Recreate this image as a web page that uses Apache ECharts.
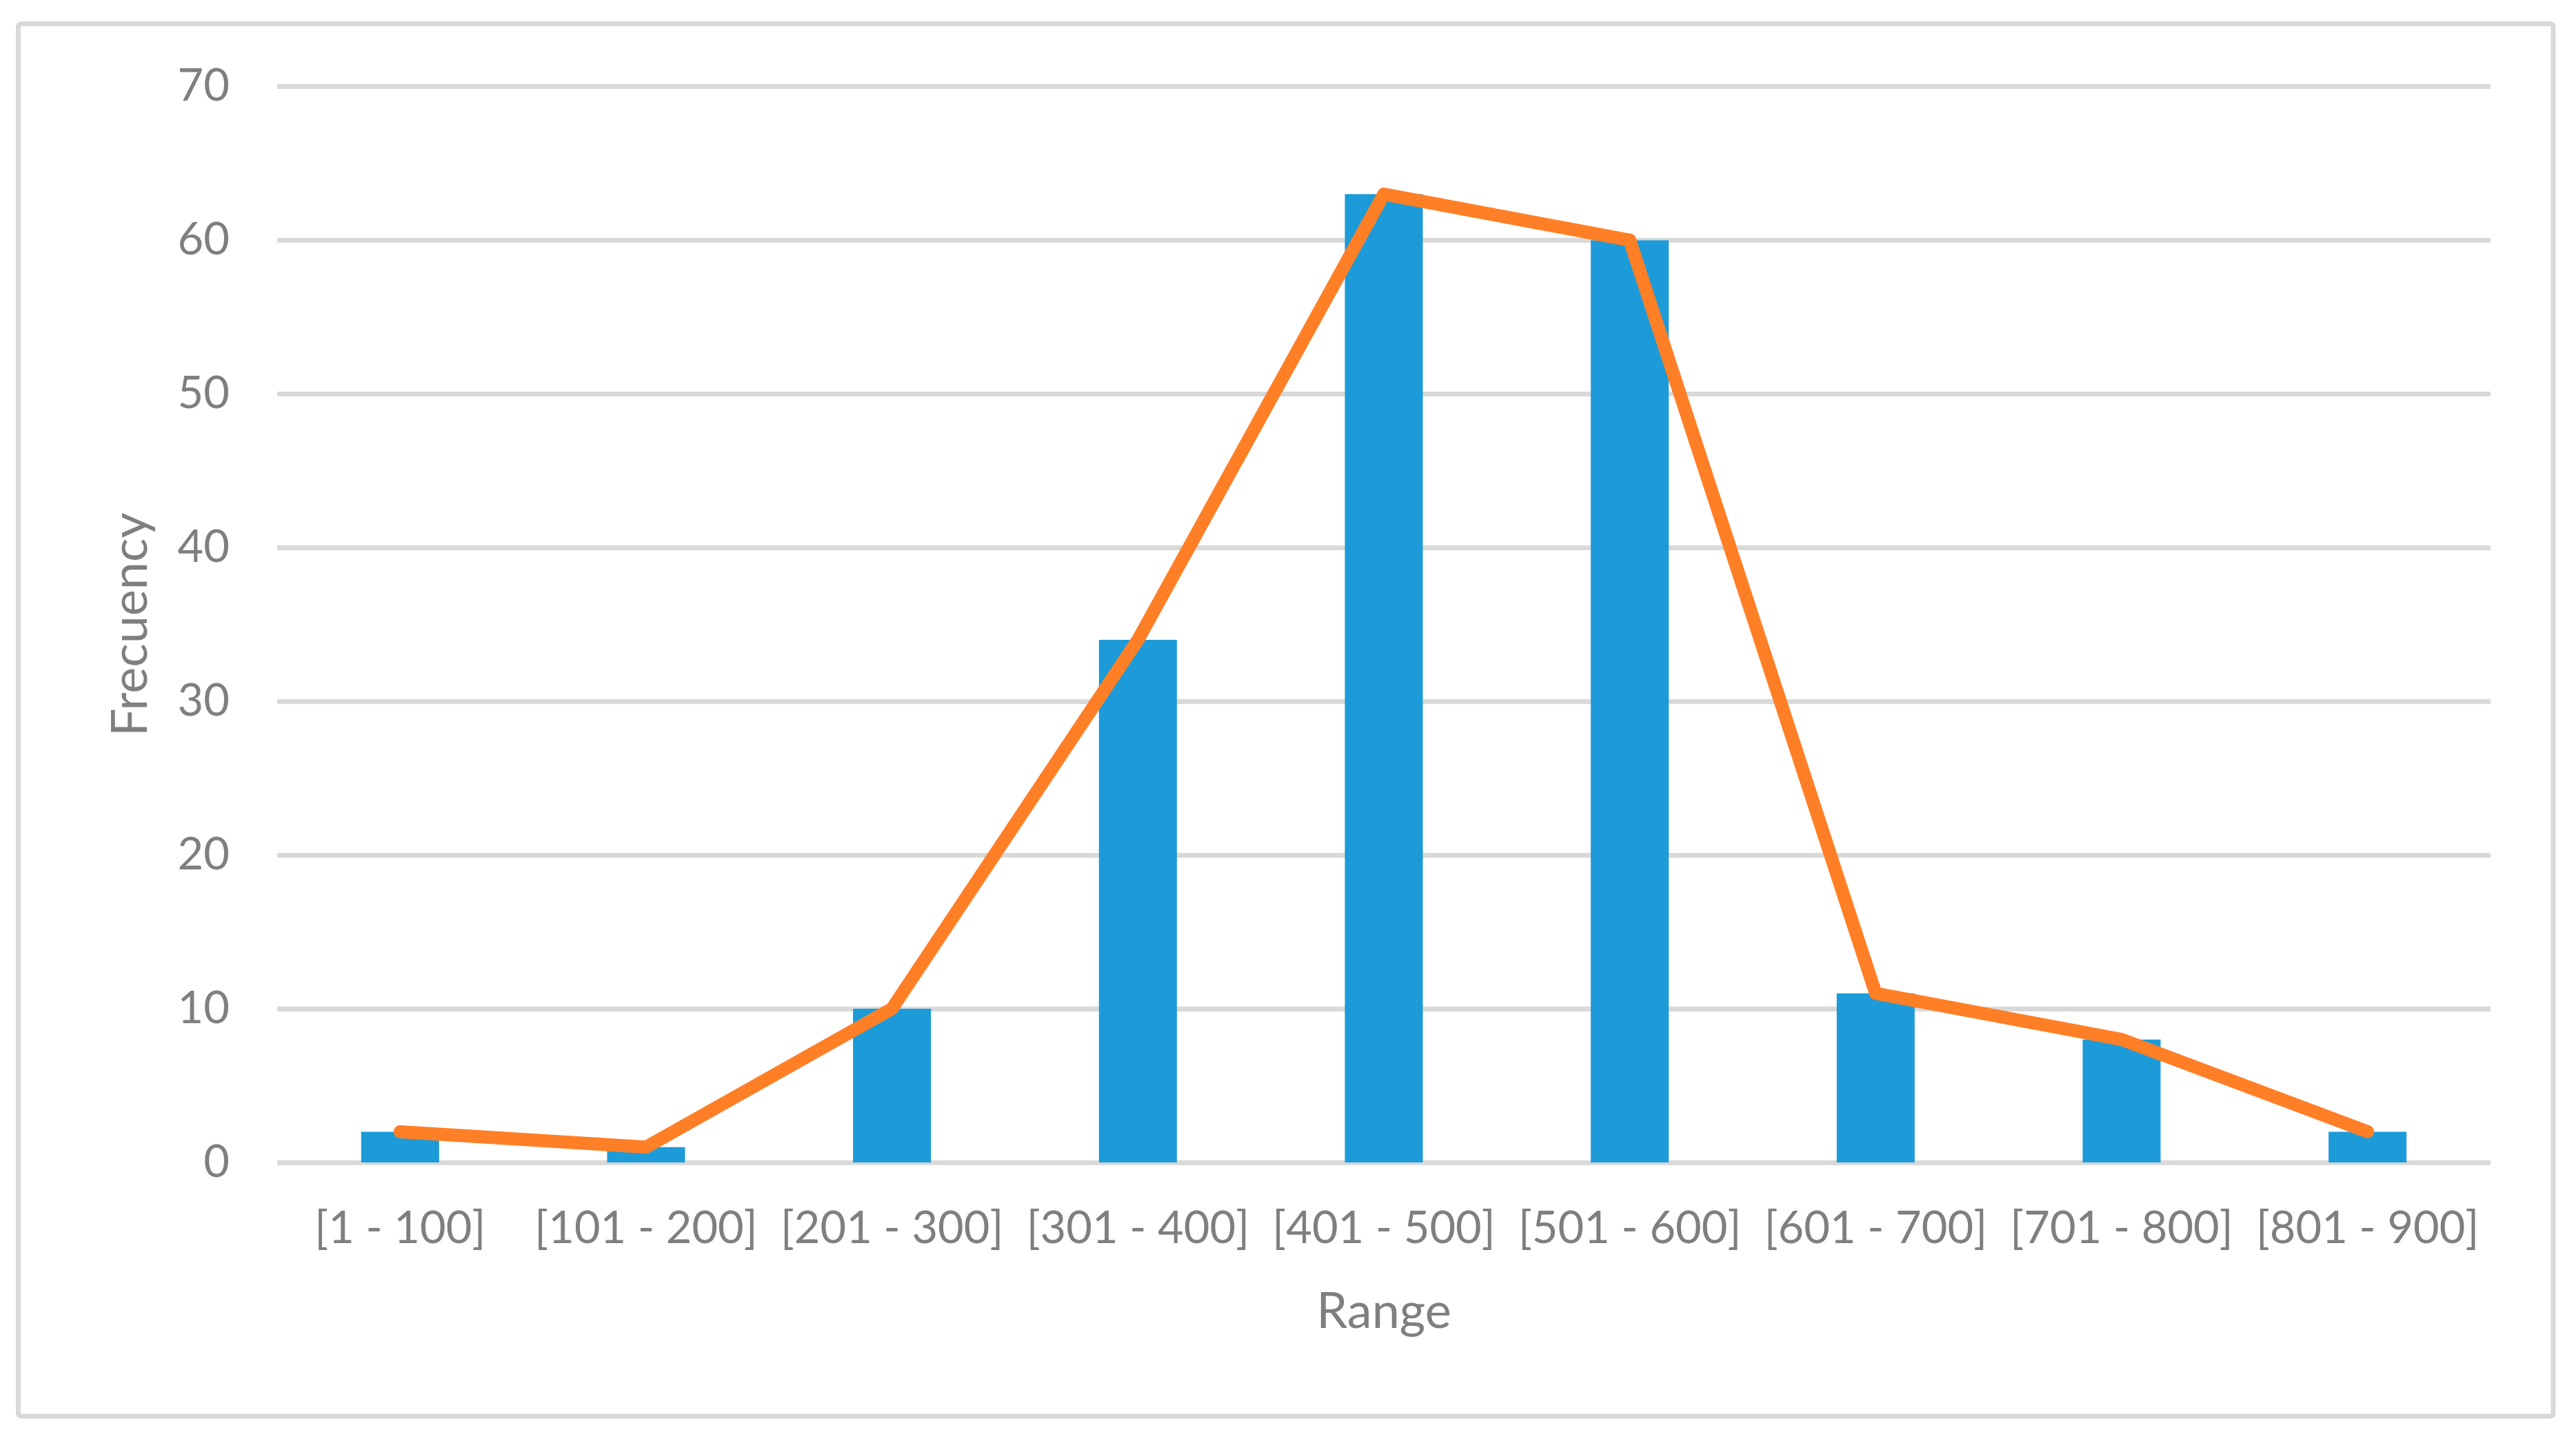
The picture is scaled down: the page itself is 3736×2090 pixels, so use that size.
<!DOCTYPE html>
<html>
<head>
<meta charset="utf-8">
<script src="https://cdn.jsdelivr.net/npm/echarts@6/dist/echarts.min.js"></script>
<style>
html,body{margin:0;padding:0;background:#fff;}
#chart{width:3736px;height:2090px;}
</style>
</head>
<body>
<div id="chart"></div>
<script>
const categories = ['[1 - 100]','[101 - 200]','[201 - 300]','[301 - 400]','[401 - 500]','[501 - 600]','[601 - 700]','[701 - 800]','[801 - 900]'];
const barValues = [2, 1, 10, 34, 63, 60, 11, 8, 2];
const lineValues = [2, 1, 10, 34, 63, 60, 11, 8, 2];
const xAxisTitle = 'Range';
const yAxisTitle = 'Frecuency';

const FONT = 'Lato';
const TXT = '#7f7f7f';
const GRIDC = '#d9d9d9';

const chart = echarts.init(document.getElementById('chart'), null, {renderer:'canvas'});
chart.setOption({
  backgroundColor: '#ffffff',
  animation: false,
  graphic: [{
    type: 'rect',
    shape: {x: 26.5, y: 34.5, width: 3676.5, height: 2019.5, r: 4},
    style: {fill: 'none', stroke: GRIDC, lineWidth: 7},
    silent: true
  }],
  grid: {left: 402, right: 124, top: 125.5, bottom: 404, containLabel: false},
  xAxis: {
    type: 'category',
    data: categories,
    boundaryGap: true,
    axisLine: {show: false},
    axisTick: {show: false},
    axisLabel: {color: TXT, fontFamily: FONT, fontSize: 65, margin: 64, interval: 0},
    name: xAxisTitle,
    nameLocation: 'middle',
    nameGap: 181,
    nameTextStyle: {color: TXT, fontFamily: FONT, fontSize: 72}
  },
  yAxis: {
    type: 'value',
    min: 0, max: 70, interval: 10,
    axisLine: {show: false},
    axisTick: {show: false},
    splitLine: {show: true, lineStyle: {color: GRIDC, width: 7}},
    axisLabel: {color: TXT, fontFamily: FONT, fontSize: 65, margin: 69},
    name: yAxisTitle,
    nameLocation: 'middle',
    nameGap: 176,
    nameRotate: 90,
    nameTextStyle: {color: TXT, fontFamily: FONT, fontSize: 72}
  },
  series: [{
    type: 'bar',
    data: barValues,
    barCategoryGap: '68.3%',
    itemStyle: {color: '#1D9BD8'},
    z: 2
  },{
    type: 'line',
    data: lineValues,
    symbol: 'none',
    lineStyle: {color: '#FF7F27', width: 19, cap: 'round', join: 'round'},
    z: 3
  }]
});
</script>
</body>
</html>
